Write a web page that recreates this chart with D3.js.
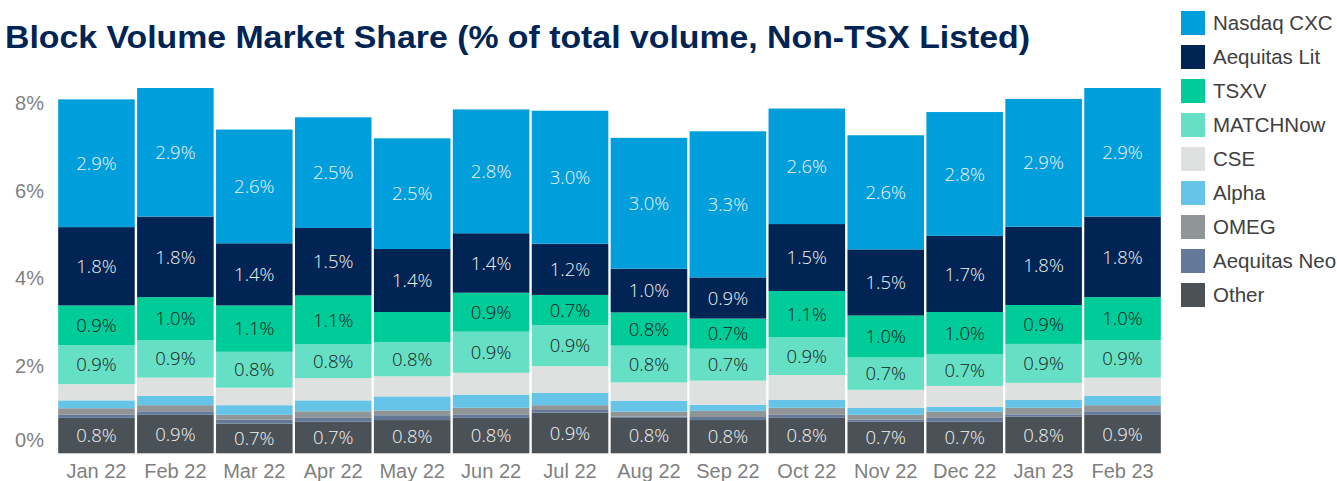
<!DOCTYPE html>
<html>
<head>
<meta charset="utf-8">
<script src="https://cdn.jsdelivr.net/npm/d3@7"></script>
<style>
  body { margin: 0; background: #fff; }
  svg { display: block; }
</style>
</head>
<body>
<svg id="chart" width="1337" height="481"></svg>
<script>
// months on the x axis
var months = ['Jan 22', 'Feb 22', 'Mar 22', 'Apr 22', 'May 22', 'Jun 22', 'Jul 22',
              'Aug 22', 'Sep 22', 'Oct 22', 'Nov 22', 'Dec 22', 'Jan 23', 'Feb 23'];

// series, legend order (top of stack first)
var seriesNames = ['Nasdaq CXC', 'Aequitas Lit', 'TSXV', 'MATCHNow', 'CSE', 'Alpha', 'OMEG', 'Aequitas Neo', 'Other'];
var seriesColors = ['#009fdb', '#002554', '#00cc99', '#66e0c5', '#dfe0e0', '#66c4e8', '#909598', '#64799a', '#4a5157'];

// % of total volume
var nasdaqCXC   = [2.92, 2.94, 2.60, 2.53, 2.53, 2.83, 3.04, 2.99, 3.34, 2.64, 2.61, 2.83, 2.92, 2.94];
var aequitasLit = [1.79, 1.84, 1.42, 1.54, 1.44, 1.36, 1.17, 1.00, 0.94, 1.53, 1.51, 1.74, 1.79, 1.84];
var tsxv        = [0.91, 0.98, 1.06, 1.12, 0.69, 0.89, 0.69, 0.76, 0.69, 1.06, 0.96, 0.96, 0.89, 0.98];
var matchNow    = [0.89, 0.86, 0.82, 0.77, 0.78, 0.94, 0.94, 0.84, 0.73, 0.86, 0.74, 0.73, 0.89, 0.86];
var cse         = [0.37, 0.42, 0.40, 0.51, 0.46, 0.50, 0.61, 0.42, 0.55, 0.57, 0.41, 0.48, 0.39, 0.42];
var alpha       = [0.18, 0.21, 0.22, 0.25, 0.32, 0.30, 0.28, 0.25, 0.14, 0.18, 0.16, 0.11, 0.18, 0.21];
var omeg        = [0.15, 0.14, 0.11, 0.15, 0.11, 0.16, 0.11, 0.11, 0.14, 0.16, 0.11, 0.14, 0.15, 0.14];
var aequitasNeo = [0.07, 0.08, 0.09, 0.09, 0.11, 0.07, 0.06, 0.03, 0.07, 0.07, 0.05, 0.09, 0.05, 0.08];
var other       = [0.81, 0.88, 0.68, 0.72, 0.76, 0.81, 0.93, 0.81, 0.76, 0.81, 0.72, 0.72, 0.84, 0.88];

var yTicks = [0, 2, 4, 6, 8];

// which series get a data label; plus single labels that are left off
var labelled = ['Nasdaq CXC', 'Aequitas Lit', 'TSXV', 'MATCHNow', 'Other'];
var darkText = ['TSXV', 'MATCHNow'];
var hiddenLabels = ['May 22|TSXV'];

(function() {
    var svg = d3.select('#chart');

    var seriesValues = [nasdaqCXC, aequitasLit, tsxv, matchNow, cse, alpha, omeg, aequitasNeo, other];
    var rows = months.map(function(m, i) {
        var r = { month: m };
        seriesNames.forEach(function(s, j) { r[s] = seriesValues[j][i]; });
        return r;
    });

    var stackOrder = seriesNames.slice().reverse(); // Other at the bottom
    var stacked = d3.stack().keys(stackOrder)(rows);

    var color = d3.scaleOrdinal().domain(seriesNames).range(seriesColors);

    var x = d3.scaleBand()
        .domain(months)
        .range([57, 1162])
        .paddingInner(0.03)
        .paddingOuter(0.015);

    var y = d3.scaleLinear()
        .domain([0, 8])
        .range([453.3, 103.3]);

    // title
    svg.append('text')
        .attr('x', 5)
        .attr('y', 48)
        .attr('textLength', 1025)
        .attr('lengthAdjust', 'spacingAndGlyphs')
        .style('font-family', '"Liberation Sans", Arial, sans-serif')
        .style('font-weight', 'bold')
        .style('font-size', '31px')
        .style('fill', '#002554')
        .text('Block Volume Market Share (% of total volume, Non-TSX Listed)');

    // bars
    var layers = svg.append('g').selectAll('g')
        .data(stacked)
        .join('g')
        .attr('fill', function(d) { return color(d.key); });

    layers.selectAll('rect')
        .data(function(d) { return d; })
        .join('rect')
        .attr('x', function(d) { return x(d.data.month); })
        .attr('y', function(d) { return y(d[1]); })
        .attr('width', x.bandwidth())
        .attr('height', function(d) { return y(d[0]) - y(d[1]); });

    // data labels
    var labelG = svg.append('g')
        .style('font-family', '"Open Sans", sans-serif')
        .style('font-weight', 300)
        .style('font-size', '18.5px')
        .attr('text-anchor', 'middle');

    stacked.forEach(function(layer) {
        if (labelled.indexOf(layer.key) < 0) return;
        layer.forEach(function(d) {
            if (hiddenLabels.indexOf(d.data.month + '|' + layer.key) >= 0) return;
            labelG.append('text')
                .attr('x', x(d.data.month) + x.bandwidth() / 2)
                .attr('y', (y(d[0]) + y(d[1])) / 2)
                .attr('dy', '0.36em')
                .style('fill', darkText.indexOf(layer.key) >= 0 ? '#1a1a1a' : '#f2f2f2')
                .text((d[1] - d[0]).toFixed(1) + '%');
        });
    });

    // axes (text only, no lines)
    var xAxis = svg.append('g')
        .attr('transform', 'translate(0,' + 453.3 + ')')
        .call(d3.axisBottom(x).tickSize(0).tickPadding(11));
    xAxis.select('.domain').remove();
    xAxis.selectAll('text')
        .style('font-family', '"Liberation Sans", Arial, sans-serif')
        .style('font-size', '20px')
        .style('fill', '#7f7f7f');

    var yAxis = svg.append('g')
        .attr('transform', 'translate(44,0)')
        .call(d3.axisLeft(y).tickValues(yTicks).tickSize(0).tickPadding(0)
            .tickFormat(function(d) { return d + '%'; }));
    yAxis.select('.domain').remove();
    yAxis.selectAll('text')
        .style('font-family', '"Liberation Sans", Arial, sans-serif')
        .style('font-size', '20px')
        .style('fill', '#7f7f7f')
        .attr('y', function(d) { return d === 0 ? -13 : 0; });

    // legend
    var legend = svg.append('g')
        .selectAll('g')
        .data(seriesNames)
        .join('g')
        .attr('transform', function(d, i) { return 'translate(1181,' + (11 + i * 34) + ')'; });

    legend.append('rect')
        .attr('width', 24)
        .attr('height', 24)
        .attr('fill', function(d) { return color(d); });

    legend.append('text')
        .attr('x', 32)
        .attr('y', 12)
        .attr('dy', '0.36em')
        .style('font-family', '"Liberation Sans", Arial, sans-serif')
        .style('font-size', '20.5px')
        .style('fill', '#404040')
        .text(function(d) { return d; });
})();
</script>
</body>
</html>
